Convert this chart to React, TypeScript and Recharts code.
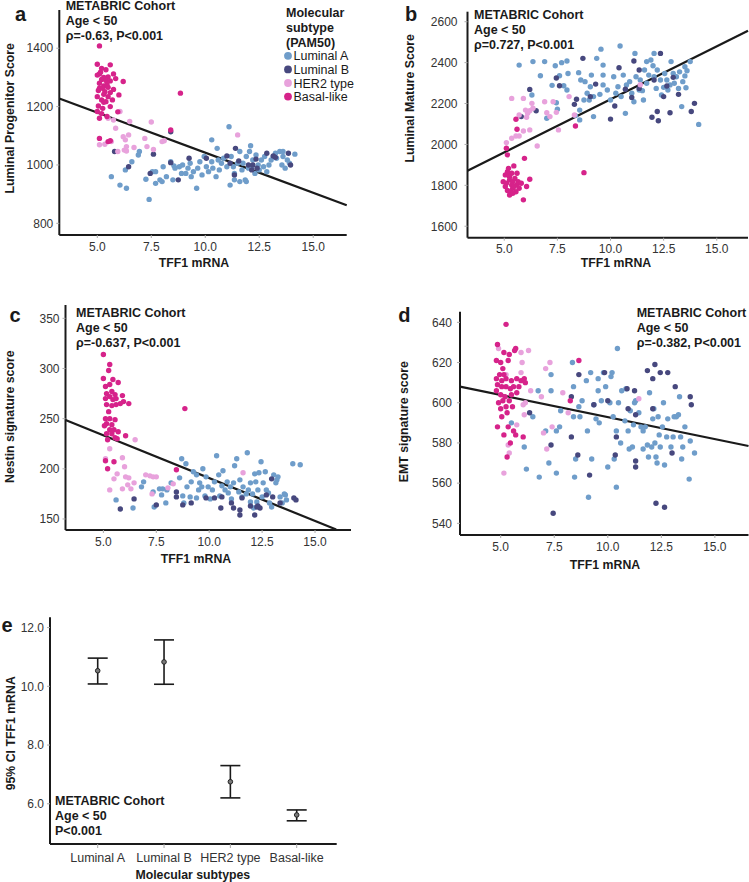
import {
  ErrorBar,
  Line,
  LineChart,
  ReferenceLine,
  Scatter,
  ScatterChart,
  XAxis,
  YAxis,
} from "recharts";

const FONT = "Liberation Sans, Arial, Helvetica, sans-serif";
const INK = "#1a1a1a";
const TICK_INK = "#333";

const SUBTYPES = ["Luminal A", "Luminal B", "HER2 type", "Basal-like"];
const SUBTYPE_COLORS = ["#6f9dca", "#47487e", "#e8a2dc", "#d6238a"];
const TFF1_TICKS = [5, 7.5, 10, 12.5, 15];

// a: Luminal Progenitor Score vs TFF1
const lpLumA = [
  [5.65, 960], [6.05, 931], [6.35, 920], [6.3, 983], [6.6, 1011], [6.9, 1034], [6.95, 1046],
  [7.25, 951], [7.4, 882], [7.55, 977], [7.7, 937], [7.7, 977], [7.9, 949], [8.0, 943],
  [8.05, 994], [8.2, 960], [8.4, 1011], [8.5, 949], [8.55, 997], [8.6, 989], [8.8, 994],
  [8.9, 971], [8.95, 1000], [9.1, 971], [9.2, 989], [9.3, 1006], [9.35, 960], [9.45, 977],
  [9.6, 920], [9.65, 989], [9.75, 1011], [9.85, 966], [9.95, 1029], [10.05, 994], [10.15, 977],
  [10.3, 1011], [10.3, 1086], [10.35, 989], [10.5, 960], [10.55, 1057], [10.6, 1017],
  [10.65, 983], [10.75, 1006], [10.85, 1023], [11.0, 994], [11.1, 1131], [11.15, 931],
  [11.2, 1029], [11.3, 994], [11.35, 971], [11.35, 949], [11.5, 1006], [11.6, 1046],
  [11.6, 943], [11.7, 983], [11.75, 1006], [11.85, 949], [11.9, 1029], [11.9, 943],
  [12.0, 989], [12.05, 1046], [12.1, 1066], [12.15, 994], [12.2, 1017], [12.3, 971],
  [12.35, 1034], [12.45, 1000], [12.5, 983], [12.6, 1017], [12.7, 994], [12.75, 1029],
  [12.85, 977], [12.95, 1000], [13.05, 1017], [13.15, 1029], [13.25, 1040], [13.3, 1023],
  [13.45, 1046], [13.55, 1000], [13.6, 1029], [13.6, 1046], [13.7, 989], [13.8, 1017],
  [13.9, 1006], [14.15, 1037],
];
const lpLumB = [
  [5.8, 1046], [6.45, 994], [7.45, 971], [7.6, 1037], [8.4, 1114], [8.4, 1008], [8.75, 949],
  [9.25, 1023], [10.05, 1023], [11.0, 1031], [11.15, 1006], [11.35, 966], [11.4, 1057],
  [11.55, 1014], [12.0, 1000], [12.15, 983], [12.2, 1000], [12.35, 1020], [12.4, 989],
  [12.85, 1040], [13.15, 1031], [13.25, 1026], [13.85, 1040], [13.95, 1000],
];
const lpHer2 = [
  [5.1, 1069], [5.35, 1071], [5.65, 1080], [5.75, 1154], [5.85, 1126], [5.95, 1046],
  [6.05, 1183], [6.2, 1097], [6.3, 1086], [6.45, 1103], [6.35, 1063], [6.25, 1051],
  [6.35, 1048], [6.5, 1149], [6.7, 1060], [7.2, 1091], [7.3, 1063], [7.5, 1147], [7.6, 1053],
  [8.0, 1080], [8.1, 1083], [11.5, 1103], [5.5, 1160],
];
const lpBasal = [
  [5.1, 1408], [5.0, 1345], [5.6, 1343], [5.2, 1331], [5.4, 1326], [5.1, 1312], [5.75, 1312],
  [5.0, 1308], [5.5, 1302], [5.3, 1300], [5.2, 1293], [5.4, 1289], [5.6, 1288], [5.1, 1280],
  [6.2, 1286], [5.3, 1271], [5.1, 1263], [5.25, 1263], [5.5, 1266], [5.75, 1259], [5.35, 1251],
  [6.0, 1240], [5.0, 1234], [5.3, 1242], [5.5, 1234], [5.2, 1223], [5.4, 1217], [5.7, 1223],
  [5.05, 1202], [5.25, 1194], [5.6, 1200], [5.0, 1183], [5.95, 1182], [5.1, 1160], [5.45, 1166],
  [5.1, 1091], [5.5, 1080], [5.6, 1083], [8.85, 1246], [8.4, 1120], [5.15, 1318], [5.45, 1276],
  [5.6, 1248], [5.3, 1215], [5.2, 1176], [5.85, 1296], [5.05, 1255],
];
const lpFit = [[3.24, 1228], [16.55, 862]];

// b: Luminal Mature Score vs TFF1
const lmLumA = [
  [5.7, 2388], [6.35, 2405], [6.9, 2405], [6.7, 2336], [6.3, 2242], [7.25, 2289], [7.4, 2385],
  [7.7, 2400], [7.95, 2408], [7.6, 2336], [7.8, 2287], [7.95, 2266], [7.45, 2204], [7.5, 2172],
  [7.0, 2128], [8.0, 2347], [8.5, 2351], [8.6, 2315], [8.8, 2307], [9.1, 2339], [9.55, 2466],
  [9.65, 2388], [9.35, 2421], [9.05, 2282], [8.9, 2250], [9.2, 2234], [8.75, 2217], [8.55, 2120],
  [8.55, 2168], [9.2, 2136], [9.5, 2245], [9.65, 2291], [9.85, 2266], [10.0, 2217], [10.15, 2331],
  [10.25, 2250], [10.35, 2282], [10.45, 2481], [10.5, 2234], [10.6, 2339], [10.75, 2291],
  [10.9, 2307], [11.0, 2250], [11.1, 2209], [11.15, 2445], [11.2, 2331], [11.35, 2266],
  [11.4, 2315], [11.55, 2217], [11.6, 2364], [11.7, 2299], [11.8, 2339], [11.7, 2405],
  [11.9, 2413], [12.0, 2385], [12.05, 2445], [12.05, 2331], [12.15, 2274], [12.2, 2364],
  [12.35, 2315], [12.4, 2242], [12.5, 2279], [12.55, 2347], [12.65, 2315], [12.7, 2266],
  [12.8, 2291], [12.85, 2405], [12.95, 2347], [13.0, 2299], [13.1, 2331], [13.2, 2274],
  [13.25, 2355], [13.35, 2185], [13.4, 2307], [13.5, 2335], [13.5, 2380], [13.55, 2277],
  [13.6, 2360], [13.75, 2405], [14.15, 2098], [11.5, 2263], [9.65, 2339], [9.0, 2217],
  [8.35, 2141], [10.7, 2152],
];
const lmLumB = [
  [6.2, 2269], [7.45, 2325], [7.6, 2287], [6.5, 2165], [5.8, 2136], [8.3, 2196], [8.4, 2221],
  [8.7, 2421], [9.05, 2234], [9.3, 2295], [10.0, 2124], [10.2, 2188], [10.4, 2375], [10.7, 2270],
  [11.0, 2230], [11.1, 2408], [11.35, 2364], [11.35, 2274], [11.95, 2133], [12.05, 2315],
  [12.2, 2161], [12.25, 2116], [12.35, 2445], [12.5, 2234], [12.65, 2286], [12.8, 2155],
  [12.95, 2328], [13.2, 2245], [13.8, 2161], [13.95, 2201],
];
const lmHer2 = [
  [5.35, 2225], [5.9, 2225], [5.1, 2009], [5.35, 2030], [5.55, 2041], [5.7, 2041], [5.9, 2066],
  [6.2, 2071], [6.55, 1992], [6.0, 2168], [6.1, 2152], [6.2, 2165], [6.35, 2177], [6.3, 2201],
  [5.7, 2144], [6.05, 2133], [6.9, 2209], [7.0, 2155], [7.15, 2136], [7.3, 2209], [7.45, 2157],
  [7.55, 2071], [8.05, 2234], [8.3, 2144], [11.4, 2292],
];
const lmBasal = [
  [5.1, 1981], [5.15, 1949], [5.55, 2123], [5.6, 2074], [5.95, 1932], [5.05, 1851], [5.2, 1883],
  [5.35, 1859], [5.45, 1895], [5.25, 1843], [4.95, 1818], [5.1, 1810], [5.25, 1826], [5.4, 1818],
  [5.5, 1834], [5.6, 1802], [5.65, 1818], [5.8, 1810], [5.15, 1775], [5.3, 1769], [5.4, 1786],
  [5.55, 1769], [5.7, 1786], [5.25, 1753], [5.4, 1761], [5.05, 1794], [5.35, 1802], [5.2, 1851],
  [5.6, 1859], [6.05, 1794], [6.2, 1830], [5.9, 1729], [8.35, 2090], [8.75, 1862], [5.15, 1867],
  [5.45, 1794],
];
const lmFit = [[3.27, 1871], [16.47, 2556]];

// c: Nestin signature score vs TFF1
const neLumA = [
  [5.6, 169], [6.4, 161], [6.8, 182], [6.9, 187], [7.35, 177], [7.4, 162], [7.65, 180],
  [7.75, 174], [7.8, 180], [7.95, 166], [8.0, 179], [8.2, 186], [8.6, 191], [8.7, 210],
  [8.75, 173], [8.8, 166], [8.9, 205], [8.95, 182], [9.1, 172], [9.15, 187], [9.25, 197],
  [9.4, 194], [9.4, 171], [9.5, 179], [9.55, 186], [9.65, 182], [9.7, 200], [9.8, 173],
  [9.85, 192], [9.95, 182], [10.05, 170], [10.15, 179], [10.25, 187], [10.35, 213], [10.45, 194],
  [10.5, 173], [10.6, 183], [10.65, 198], [10.75, 179], [10.85, 187], [10.9, 176], [11.0, 182],
  [11.05, 170], [11.15, 186], [11.2, 203], [11.3, 210], [11.4, 177], [11.45, 189], [11.55, 172],
  [11.6, 182], [11.75, 175], [11.8, 216], [11.85, 179], [11.95, 167], [11.95, 186], [12.05, 175],
  [12.1, 161], [12.15, 195], [12.2, 187], [12.25, 167], [12.3, 179], [12.35, 196], [12.45, 207],
  [12.5, 172], [12.55, 186], [12.65, 197], [12.7, 179], [12.8, 176], [12.85, 166], [12.95, 162],
  [13.05, 194], [13.15, 186], [13.2, 189], [13.25, 192], [13.35, 172], [13.45, 166], [13.55, 175],
  [13.6, 174], [13.65, 169], [13.95, 205], [14.3, 204],
];
const neLumB = [
  [5.8, 160], [6.45, 170], [7.5, 164], [8.45, 177], [8.45, 172], [8.75, 164], [9.15, 166],
  [9.85, 171], [10.25, 171], [10.55, 161], [10.6, 172], [11.05, 166], [11.15, 161], [11.45, 159],
  [11.45, 154], [11.55, 171], [12.15, 154], [12.25, 162], [12.3, 163], [12.4, 161], [12.7, 174],
  [13.0, 172], [13.35, 166], [12.95, 190], [14.0, 171], [14.1, 169], [11.95, 163],
];
const neHer2 = [
  [5.1, 210], [5.3, 220], [5.5, 190], [5.65, 195], [5.3, 179], [5.9, 211], [6.0, 202],
  [6.05, 192], [6.2, 191], [6.15, 184], [5.9, 180], [6.3, 180], [6.5, 229], [6.45, 186],
  [7.0, 194], [7.2, 193], [7.35, 192], [7.5, 192], [7.3, 175], [8.05, 181], [8.3, 185],
  [11.6, 196],
];
const neBasal = [
  [5.0, 314], [5.0, 290], [5.3, 304], [5.25, 298], [5.1, 282], [5.3, 284], [5.45, 289],
  [5.7, 286], [5.15, 275], [5.4, 277], [5.55, 274], [5.3, 272], [5.1, 270], [5.45, 269],
  [5.6, 270], [5.15, 264], [5.4, 263], [5.6, 264], [5.25, 257], [5.9, 273], [5.95, 267],
  [5.8, 265], [6.2, 265], [5.1, 250], [5.3, 250], [5.55, 249], [5.15, 245], [5.05, 243],
  [5.4, 244], [5.3, 239], [5.5, 239], [5.15, 235], [5.4, 235], [5.7, 237], [5.2, 229],
  [5.55, 231], [5.65, 230], [6.05, 233], [5.1, 208], [5.5, 207], [5.2, 200], [8.85, 260],
  [8.45, 199],
];
const neFit = [[3.21, 248.7], [16.0, 139.5]];

// d: EMT signature score vs TFF1
const emtLumA = [
  [5.5, 590], [6.1, 578], [6.2, 567], [6.5, 593], [6.75, 606], [6.8, 563], [7.1, 586],
  [7.25, 570], [7.35, 606], [7.35, 614], [7.6, 565], [7.6, 586], [7.75, 588], [7.8, 596],
  [8.35, 620], [8.4, 608], [8.4, 593], [8.5, 572], [8.65, 598], [8.7, 593], [8.8, 601],
  [9.0, 611], [9.05, 586], [9.1, 553], [9.2, 615], [9.25, 572], [9.35, 599], [9.45, 592],
  [9.55, 606], [9.55, 612], [9.6, 590], [9.7, 601], [9.8, 615], [9.9, 608], [10.0, 568],
  [10.1, 600], [10.15, 613], [10.2, 615], [10.25, 593], [10.3, 572], [10.4, 558], [10.4, 586],
  [10.45, 627], [10.5, 600], [10.6, 580], [10.65, 606], [10.8, 591], [10.85, 607], [10.95, 586],
  [11.0, 577], [11.05, 596], [11.15, 578], [11.2, 589], [11.25, 600], [11.3, 601], [11.45, 595],
  [11.55, 588], [11.65, 586], [11.65, 577], [11.75, 588], [11.85, 579], [11.9, 573], [11.95, 605],
  [12.05, 578], [12.1, 592], [12.15, 597], [12.2, 580], [12.25, 573], [12.3, 570], [12.35, 593],
  [12.4, 584], [12.45, 578], [12.55, 588], [12.6, 600], [12.65, 569], [12.75, 583], [12.8, 592],
  [12.95, 578], [13.05, 583], [13.1, 593], [13.2, 593], [13.3, 594], [13.35, 603], [13.4, 583],
  [13.45, 572], [13.5, 578], [13.6, 588], [13.8, 562], [13.85, 581], [14.05, 575], [8.45, 563],
];
const emtLumB = [
  [6.35, 595], [7.35, 579], [7.45, 545], [8.3, 583], [8.3, 603], [8.6, 574], [8.65, 614],
  [9.15, 564], [9.35, 599], [9.85, 615], [10.0, 601], [10.4, 583], [10.35, 574], [10.9, 607],
  [10.95, 597], [11.25, 606], [11.3, 594], [11.3, 571], [11.3, 568], [11.85, 616], [12.1, 612],
  [12.1, 597], [12.2, 619], [12.25, 550], [12.45, 615], [12.65, 548], [12.8, 615], [13.0, 575],
  [13.15, 608], [13.85, 603], [13.9, 599],
];
const emtHer2 = [
  [4.9, 627], [5.95, 625], [6.0, 620], [6.3, 626], [5.25, 614], [5.95, 615], [6.4, 606],
  [6.15, 600], [6.05, 599], [5.75, 589], [6.1, 594], [5.35, 579], [5.4, 575], [5.15, 565],
  [6.9, 603], [7.1, 617], [7.3, 620], [7.4, 588], [7.0, 585], [7.15, 577], [7.9, 605],
  [8.15, 595], [11.45, 602],
];
const emtBasal = [
  [5.25, 639], [4.85, 629], [5.15, 625], [4.8, 621], [5.7, 627], [5.65, 626], [5.4, 624],
  [5.0, 620], [5.35, 621], [5.1, 617], [4.95, 614], [5.15, 614], [4.8, 612], [5.05, 611],
  [5.25, 612], [5.5, 611], [5.75, 612], [5.95, 611], [6.1, 612], [6.15, 610], [5.85, 608],
  [4.85, 609], [5.05, 608], [5.25, 608], [5.45, 607], [5.6, 608], [5.75, 605], [4.8, 606],
  [5.0, 604], [5.2, 603], [5.5, 604], [5.1, 601], [5.4, 601], [4.9, 600], [5.25, 598],
  [5.0, 597], [5.55, 598], [5.3, 595], [5.05, 593], [4.85, 588], [5.35, 588], [5.6, 586],
  [5.15, 584], [5.7, 584], [5.45, 580], [6.05, 583], [5.3, 573], [8.65, 621], [8.25, 601],
];
const emtFit = [[3.1, 608], [16.57, 578.5]];

// e: mean TFF1 with 95% CI per subtype
const ciMean = [10.53, 10.83, 6.75, 5.62];
const ciLow = [10.08, 10.07, 6.2, 5.42];
const ciHigh = [10.96, 11.58, 7.3, 5.79];

const toXY = (pts: number[][]) => pts.map(([x, y]) => ({ x, y }));

const dotShape = (color: string) => (p: any) => (
  <circle cx={p.cx} cy={p.cy} r={2.7} fill={color} />
);

const tickStyle = (size: number) => ({ fontSize: size, fill: TICK_INK, fontFamily: FONT });

type PanelProps = {
  left: number;
  top: number;
  width: number;
  height: number;
  plot: { l: number; r: number; t: number; b: number };
  xDomain: [number, number];
  yDomain: [number, number];
  yTicks: number[];
  yGap: number;
  groups: number[][][];
  fit: number[][];
};

function ScatterPanel({ left, top, width, height, plot, xDomain, yDomain, yTicks, yGap, groups, fit }: PanelProps) {
  return (
    <div style={{ position: "absolute", left, top }}>
      <ScatterChart
        width={width}
        height={height}
        margin={{ top: plot.t, right: width - plot.r, bottom: 0, left: 0 }}
      >
        <XAxis
          type="number"
          dataKey="x"
          domain={xDomain}
          ticks={TFF1_TICKS}
          allowDataOverflow
          height={height - plot.b}
          tickFormatter={(v: number) => v.toFixed(1)}
          axisLine={{ stroke: INK, strokeWidth: 2 }}
          tickLine={{ stroke: "#aaa" }}
          tickSize={3}
          tickMargin={4}
          tick={tickStyle(12)}
        />
        <YAxis
          type="number"
          dataKey="y"
          domain={yDomain}
          ticks={yTicks}
          allowDataOverflow
          width={plot.l}
          axisLine={{ stroke: INK, strokeWidth: 2 }}
          tickLine={{ stroke: "#aaa" }}
          tickSize={3}
          tickMargin={yGap}
          tick={tickStyle(12)}
        />
        {groups.map((pts, i) => (
          <Scatter
            key={SUBTYPES[i]}
            data={toXY(pts)}
            fill={SUBTYPE_COLORS[i]}
            shape={dotShape(SUBTYPE_COLORS[i])}
            isAnimationActive={false}
          />
        ))}
        <ReferenceLine
          segment={toXY(fit)}
          stroke={INK}
          strokeWidth={2.2}
          ifOverflow="visible"
        />
      </ScatterChart>
    </div>
  );
}

function Note({ x, y, lines }: { x: number; y: number; lines: string[] }) {
  return (
    <text x={x} y={y} fontFamily={FONT} fontSize={12.5} fontWeight="bold" fill={INK}>
      {lines.map((s, i) => (
        <tspan key={i} x={x} dy={i === 0 ? 0 : 15}>
          {s}
        </tspan>
      ))}
    </text>
  );
}

function YTitle({ x, y, children }: { x: number; y: number; children: string }) {
  return (
    <text
      transform={`translate(${x},${y}) rotate(-90)`}
      textAnchor="middle"
      dy="0.35em"
      fontFamily={FONT}
      fontSize={12.3}
      fontWeight="bold"
      fill={INK}
    >
      {children}
    </text>
  );
}

function XTitle({ x, y, children }: { x: number; y: number; children: string }) {
  return (
    <text x={x} y={y} textAnchor="middle" fontFamily={FONT} fontSize={12.3} fontWeight="bold" fill={INK}>
      {children}
    </text>
  );
}

function Letter({ x, y, children }: { x: number; y: number; children: string }) {
  return (
    <text x={x} y={y} fontFamily={FONT} fontSize={20} fontWeight="bold" fill={INK}>
      {children}
    </text>
  );
}

export default function App() {
  const ciData = SUBTYPES.map((name, i) => ({
    name,
    mean: ciMean[i],
    err: [ciMean[i] - ciLow[i], ciHigh[i] - ciMean[i]],
  }));

  return (
    <div
      style={{
        position: "absolute",
        left: 0,
        top: 0,
        width: 749,
        height: 882,
        background: "#fff",
        fontFamily: FONT,
        overflow: "hidden",
      }}
    >
      <ScatterPanel
        left={0}
        top={0}
        width={360}
        height={290}
        plot={{ l: 59.3, r: 346.7, t: 10, b: 235 }}
        xDomain={[3.24, 16.55]}
        yDomain={[760, 1531]}
        yTicks={[800, 1000, 1200, 1400]}
        yGap={3}
        groups={[lpLumA, lpLumB, lpHer2, lpBasal]}
        fit={lpFit}
      />
      <ScatterPanel
        left={370}
        top={0}
        width={379}
        height={290}
        plot={{ l: 97.5, r: 378, t: 11.7, b: 237.7 }}
        xDomain={[3.27, 16.47]}
        yDomain={[1544, 2649]}
        yTicks={[1600, 1800, 2000, 2200, 2400, 2600]}
        yGap={7}
        groups={[lmLumA, lmLumB, lmHer2, lmBasal]}
        fit={lmFit}
      />
      <ScatterPanel
        left={0}
        top={290}
        width={360}
        height={290}
        plot={{ l: 65.5, r: 351, t: 15, b: 240 }}
        xDomain={[3.21, 16.7]}
        yDomain={[139, 363.3]}
        yTicks={[150, 200, 250, 300, 350]}
        yGap={3}
        groups={[neLumA, neLumB, neHer2, neBasal]}
        fit={neFit}
      />
      <ScatterPanel
        left={370}
        top={290}
        width={379}
        height={290}
        plot={{ l: 90, r: 378.5, t: 21.7, b: 245 }}
        xDomain={[3.1, 16.57]}
        yDomain={[534.2, 645.3]}
        yTicks={[540, 560, 580, 600, 620, 640]}
        yGap={5}
        groups={[emtLumA, emtLumB, emtHer2, emtBasal]}
        fit={emtFit}
      />

      <div style={{ position: "absolute", left: 0, top: 600 }}>
        <LineChart
          width={370}
          height={282}
          data={ciData}
          margin={{ top: 17.3, right: 33.3, bottom: 0, left: 0 }}
        >
          <XAxis
            dataKey="name"
            type="category"
            padding={{ left: 47.7, right: 40 }}
            height={38}
            axisLine={{ stroke: INK, strokeWidth: 2 }}
            tickLine={{ stroke: "#aaa" }}
            tickSize={4}
            tickMargin={5}
            tick={tickStyle(12.5)}
          />
          <YAxis
            type="number"
            domain={[4.63, 12.35]}
            ticks={[6, 8, 10, 12]}
            allowDataOverflow
            width={50}
            tickFormatter={(v: number) => v.toFixed(1)}
            axisLine={{ stroke: INK, strokeWidth: 2 }}
            tickLine={{ stroke: "#aaa" }}
            tickSize={3}
            tickMargin={3}
            tick={tickStyle(12)}
          />
          <Line
            dataKey="mean"
            stroke="none"
            isAnimationActive={false}
            dot={(p: any) => (
              <circle key={p.index} cx={p.cx} cy={p.cy} r={2.3} fill="#7a7a7a" stroke="#222" strokeWidth={1} />
            )}
            activeDot={false}
          >
            <ErrorBar dataKey="err" width={10} stroke={INK} strokeWidth={1.6} direction="y" />
          </Line>
        </LineChart>
      </div>

      <svg
        width={749}
        height={882}
        style={{ position: "absolute", left: 0, top: 0, pointerEvents: "none" }}
      >
        <Letter x={15} y={20.7}>a</Letter>
        <Letter x={405} y={20.7}>b</Letter>
        <Letter x={9.5} y={321.7}>c</Letter>
        <Letter x={398.3} y={321.7}>d</Letter>
        <Letter x={1.5} y={632.3}>e</Letter>

        <Note x={65.7} y={10} lines={["METABRIC Cohort", "Age < 50", "ρ=-0.63, P<0.001"]} />
        <Note x={474} y={19.3} lines={["METABRIC Cohort", "Age < 50", "ρ=0.727, P<0.001"]} />
        <Note x={76} y={317.3} lines={["METABRIC Cohort", "Age < 50", "ρ=-0.637, P<0.001"]} />
        <Note x={636.7} y={316.7} lines={["METABRIC Cohort", "Age < 50", "ρ=-0.382, P<0.001"]} />
        <Note x={55} y={805} lines={["METABRIC Cohort", "Age < 50", "P<0.001"]} />

        <Note x={286} y={16.7} lines={["Molecular", "subtype", "(PAM50)"]} />
        {SUBTYPES.map((name, i) => (
          <g key={name}>
            <circle cx={288} cy={55.8 + i * 13.6} r={3.9} fill={SUBTYPE_COLORS[i]} />
            <text x={293.5} y={60.3 + i * 13.6} fontFamily={FONT} fontSize={12.5} fill={INK}>
              {name}
            </text>
          </g>
        ))}

        <YTitle x={10} y={118.3}>Luminal Progenitor Score</YTitle>
        <YTitle x={410} y={98.3}>Luminal Mature Score</YTitle>
        <YTitle x={10} y={416.7}>Nestin signature score</YTitle>
        <YTitle x={403.3} y={421.7}>EMT signature score</YTitle>
        <YTitle x={10.5} y={733.3}>95% CI TFF1 mRNA</YTitle>

        <XTitle x={194} y={267}>TFF1 mRNA</XTitle>
        <XTitle x={616} y={267}>TFF1 mRNA</XTitle>
        <XTitle x={196} y={562.5}>TFF1 mRNA</XTitle>
        <XTitle x={605} y={569}>TFF1 mRNA</XTitle>
        <XTitle x={192.8} y={878.5}>Molecular subtypes</XTitle>
      </svg>
    </div>
  );
}
